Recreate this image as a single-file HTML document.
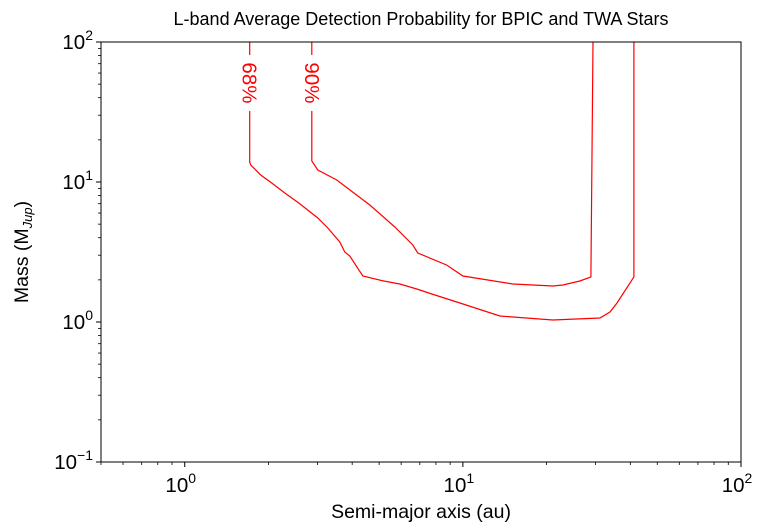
<!DOCTYPE html>
<html><head><meta charset="utf-8"><style>
body{margin:0;background:#fff;}
svg{display:block;font-family:"Liberation Sans","DejaVu Sans",sans-serif;}
</style></head><body>
<svg id="chart" width="769" height="531" viewBox="0 0 769 531">
<rect width="769" height="531" fill="#fff"/>
<text x="421" y="25" text-anchor="middle" font-size="18" fill="#000">L-band Average Detection Probability for BPIC and TWA Stars</text>
<g id="plot"></g>
<text x="421" y="518" text-anchor="middle" font-size="19.5">Semi-major axis (au)</text>
<text transform="translate(28,252) rotate(-90)" text-anchor="middle" font-size="19.5">Mass (M<tspan font-size="13" dy="4" font-style="italic">Jup</tspan><tspan dy="-4">)</tspan></text>
</svg>
<script>
const xTicks=[0,1,2];
const yTicks=[-1,0,1,2];
const c68x=[1.713,1.713,1.728,1.876,2.055,2.289,2.572,3.009,3.269,3.611,3.763,3.923,4.369,5.197,5.934,6.832,7.735,9.755,13.59,21.08,31.10,33.80,35.81,41.22,41.22];
const c68y=[100,13.90,13.23,11.22,9.84,8.35,7.08,5.53,4.69,3.73,3.16,2.96,2.13,1.963,1.868,1.721,1.585,1.367,1.104,1.033,1.068,1.179,1.367,2.097,100];
const c90x=[2.863,2.863,3.009,3.523,4.630,5.693,6.608,6.887,8.757,10,15.13,21.08,22.89,26.36,28.87,29.36];
const c90y=[100,14.13,12.18,10.33,6.85,4.77,3.55,3.11,2.55,2.13,1.868,1.807,1.837,1.963,2.097,100];
const labels=[{t:"68%",x:1.713,y:51},{t:"90%",x:2.863,y:51}];
const X0=101,X1=741,Y0=42,Y1=462,xmin=0.5,xmax=100,ymin=0.1,ymax=100;
const NS="http://www.w3.org/2000/svg";
function sx(v){return X0+(Math.log10(v)-Math.log10(xmin))/(Math.log10(xmax)-Math.log10(xmin))*(X1-X0);}
function sy(v){return Y1-(Math.log10(v)-Math.log10(ymin))/(Math.log10(ymax)-Math.log10(ymin))*(Y1-Y0);}
const g=document.getElementById('plot');
function mk(tag,attrs){const e=document.createElementNS(NS,tag);for(const k in attrs)e.setAttribute(k,attrs[k]);g.appendChild(e);return e;}
function path(xs,ys,name){
  let d=xs.map((x,i)=>(i?'L':'M')+sx(x).toFixed(1)+','+sy(ys[i]).toFixed(1)).join(' ');
  const p=mk('path',{d:d,fill:'none',stroke:'#ff0000','stroke-width':1.2});
  
  
}
path(c68x,c68y,'contour-68');
path(c90x,c90y,'contour-90');
labels.forEach(l=>{
  const cx=sx(l.x),cy=sy(l.y);
  const r=mk('rect',{x:cx-12,y:cy-28,width:24,height:56,fill:'#fff'});
  
  
  const t=mk('text',{transform:`translate(${cx-7},${cy}) rotate(90)`,'text-anchor':'middle','font-size':20.5,fill:'#ff0000'});
  t.textContent=l.t;
  
  
});
const frame=mk('rect',{x:X0,y:Y0,width:X1-X0,height:Y1-Y0,fill:'none',stroke:'#000','stroke-width':1});


for(let e=-1;e<=2;e++){for(let m=1;m<10;m++){const v=m*Math.pow(10,e);if(v<xmin||v>xmax)continue;const x=sx(v);const L=m===1?5:3;
  const tk=mk('line',{x1:x,x2:x,y1:Y1,y2:Y1+L,stroke:'#000','stroke-width':m===1?1:0.8});
  
  }}
xTicks.forEach(e=>{const t=mk('text',{x:sx(Math.pow(10,e))-4,y:Y1+30,'text-anchor':'middle','font-size':20.5});
  t.innerHTML='10<tspan dy="-9" font-size="14">'+e+'</tspan>';
  
  });
for(let e=-1;e<=1;e++){for(let m=1;m<=10;m++){const v=m*Math.pow(10,e);if(v<ymin||v>ymax)continue;const y=sy(v);const L=(m===1||m===10)?5:3;
  const tk=mk('line',{x1:X0-L,x2:X0,y1:y,y2:y,stroke:'#000','stroke-width':L===5?1:0.8});
  
  }}
yTicks.forEach(e=>{const t=mk('text',{x:X0-8,y:sy(Math.pow(10,e))+7,'text-anchor':'end','font-size':20.5});
  t.innerHTML='10<tspan dy="-9" font-size="14">'+(e<0?'\u2212'+(-e):e)+'</tspan>';
  
  });
</script>
</body></html>
